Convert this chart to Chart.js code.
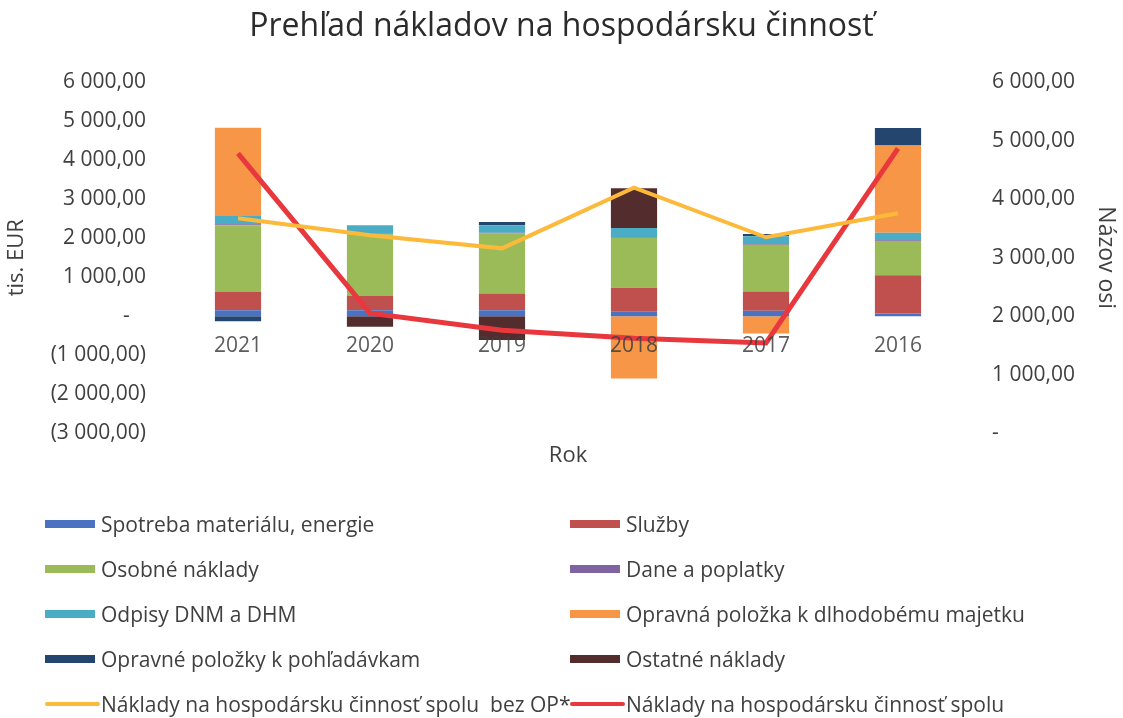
<!DOCTYPE html>
<html lang="sk">
<head>
<meta charset="utf-8">
<title>Prehľad nákladov na hospodársku činnosť</title>
<script src="https://cdn.jsdelivr.net/npm/chart.js@4.4.1/dist/chart.umd.min.js"></script>
<style>
html,body{margin:0;padding:0;background:#fff;}
#wrap{position:relative;width:1123px;height:718px;overflow:hidden;}
#costChart{position:absolute;left:0;top:0;}
#legend{
  position:absolute;left:45px;top:501px;
  display:grid;grid-template-columns:525px 550px;
  font-family:"Open Sans",sans-serif;font-size:21px;color:#404040;
}
.item{display:flex;align-items:center;height:45px;white-space:pre;}
.swatch{width:50px;height:8px;margin-right:6px;flex:none;}
.swatch.line{width:55px;height:4px;border-radius:2px;margin-right:1px;}
</style>
</head>
<body>
<div id="wrap">
<canvas id="costChart" width="1123" height="718"></canvas>
<div id="legend"></div>
</div>

<script>
/* ===============================
        Data
================================ */

const years = ["2021","2020","2019","2018","2017","2016"];

const spotreba          = [150, 150, 150, 110, 140, 70];
const sluzby            = [470, 370, 430, 620, 490, 980];
const osobne            = [1710, 1580, 1540, 1280, 1200, 880];
const dane              = [30, 20, 20, 20, 20, 20];
const odpisy            = [210, 210, 190, 230, 200, 190];
const opravnaMajetok    = [2265, 0, 0, -1600, -445, 2240];
const opravnePohladavky = [-130, 0, 85, 0, 60, 450];
const ostatne           = [0, -270, -615, 1025, 0, 0];

// lines, right axis
const spoluBezOP = [3675, 3385, 3160, 4200, 3350, 3760];
const spolu      = [4786, 2051, 1760, 1620, 1540, 4870];

const leftTicks  = [-3000, 6000, 1000];   // min, max, step
const rightTicks = [0, 6000, 1000];


/* ===============================
        Helpers
================================ */

function fmt(v, zero){
  if(v === 0) return zero;
  const parts = Math.abs(v).toFixed(2).split(".");
  const s = parts[0].replace(/\B(?=(\d{3})+(?!\d))/g, " ") + "," + parts[1];
  return v < 0 ? "(" + s + ")" : s;
}

const tickColor = "#404040";
const font = "'Open Sans', sans-serif";

function barSet(label, data, color){
  return {
    type: "bar",
    label: label,
    data: data,
    backgroundColor: color,
    borderWidth: 0,
    barPercentage: 0.35,
    categoryPercentage: 1,
    yAxisID: "y",
    order: 1
  };
}

function lineSet(label, data, color, width){
  return {
    type: "line",
    label: label,
    data: data,
    borderColor: color,
    backgroundColor: color,
    borderWidth: width,
    pointRadius: 0,
    tension: 0,
    yAxisID: "y1",
    order: 0
  };
}


/* ===============================
        Chart
================================ */

const chart = new Chart(document.getElementById("costChart"), {

  type: "bar",

  data: {
    labels: years,
    datasets: [
      barSet("Spotreba materiálu, energie", spotreba, "#4A72C0"),
      barSet("Služby", sluzby, "#C0504D"),
      barSet("Osobné náklady", osobne, "#9BBB59"),
      barSet("Dane a poplatky", dane, "#8064A2"),
      barSet("Odpisy DNM a DHM", odpisy, "#4BACC6"),
      barSet("Opravná položka k dlhodobému majetku", opravnaMajetok, "#F79646"),
      barSet("Opravné položky k pohľadávkam", opravnePohladavky, "#24466E"),
      barSet("Ostatné náklady", ostatne, "#532D2D"),
      lineSet("Náklady na hospodársku činnosť spolu  bez OP*", spoluBezOP, "#FDBA3A", 4),
      lineSet("Náklady na hospodársku činnosť spolu", spolu, "#E8383D", 5)
    ]
  },

  options: {
    responsive: false,
    animation: false,

    layout: {
      padding: { top: 0, left: 0, right: 0, bottom: 245 }
    },

    plugins: {
      legend: { display: false },
      tooltip: { enabled: false },
      title: {
        display: true,
        text: "Prehľad nákladov na hospodársku činnosť",
        color: "#2b2b2b",
        font: { family: font, size: 32, weight: "normal" },
        padding: { top: 8, bottom: 36 }
      }
    },

    scales: {

      x: {
        position: { y: 0 },
        stacked: true,
        grid: { display: false, drawTicks: false },
        border: { display: false },
        ticks: {
          z: 1,
          color: "rgba(64,64,64,0.85)",
          maxRotation: 0,
          autoSkip: false,
          padding: 17,
          font: { family: font, size: 21 }
        }
      },

      x2: {
        type: "category",
        position: "bottom",
        grid: { display: false, drawTicks: false },
        border: { display: false },
        ticks: { display: false },
        title: {
          display: true,
          text: "Rok",
          color: tickColor,
          font: { family: font, size: 22 }
        },
        afterFit(scale){ scale.height = 40; }
      },

      y: {
        position: "left",
        stacked: true,
        min: leftTicks[0],
        max: leftTicks[1],
        grid: { display: false, drawTicks: false },
        border: { display: false },
        ticks: {
          stepSize: leftTicks[2],
          color: tickColor,
          padding: 26,
          font: { family: font, size: 21 },
          callback: v => fmt(v, "-   ")
        },
        title: {
          display: true,
          text: "tis. EUR",
          color: tickColor,
          font: { family: font, size: 22 }
        },
        afterFit(scale){ scale.width = 172; }
      },

      y1: {
        position: "right",
        min: rightTicks[0],
        max: rightTicks[1],
        grid: { display: false, drawTicks: false },
        border: { display: false },
        ticks: {
          stepSize: rightTicks[2],
          color: tickColor,
          padding: 28,
          font: { family: font, size: 21 },
          callback: v => fmt(v, "-")
        },
        title: {
          display: true,
          text: "Názov osi",
          color: tickColor,
          font: { family: font, size: 23 }
        },
        afterFit(scale){ scale.width = 159; }
      }
    }
  }
});


/* ===============================
        Legend (two columns)
================================ */

const legendBox = document.getElementById("legend");

chart.data.datasets.forEach(ds => {
  const item = document.createElement("div");
  item.className = "item";
  const sw = document.createElement("span");
  sw.className = ds.type === "line" ? "swatch line" : "swatch";
  sw.style.background = ds.type === "line" ? ds.borderColor : ds.backgroundColor;
  const txt = document.createElement("span");
  txt.textContent = ds.label;
  item.appendChild(sw);
  item.appendChild(txt);
  legendBox.appendChild(item);
});
</script>
</body>
</html>
